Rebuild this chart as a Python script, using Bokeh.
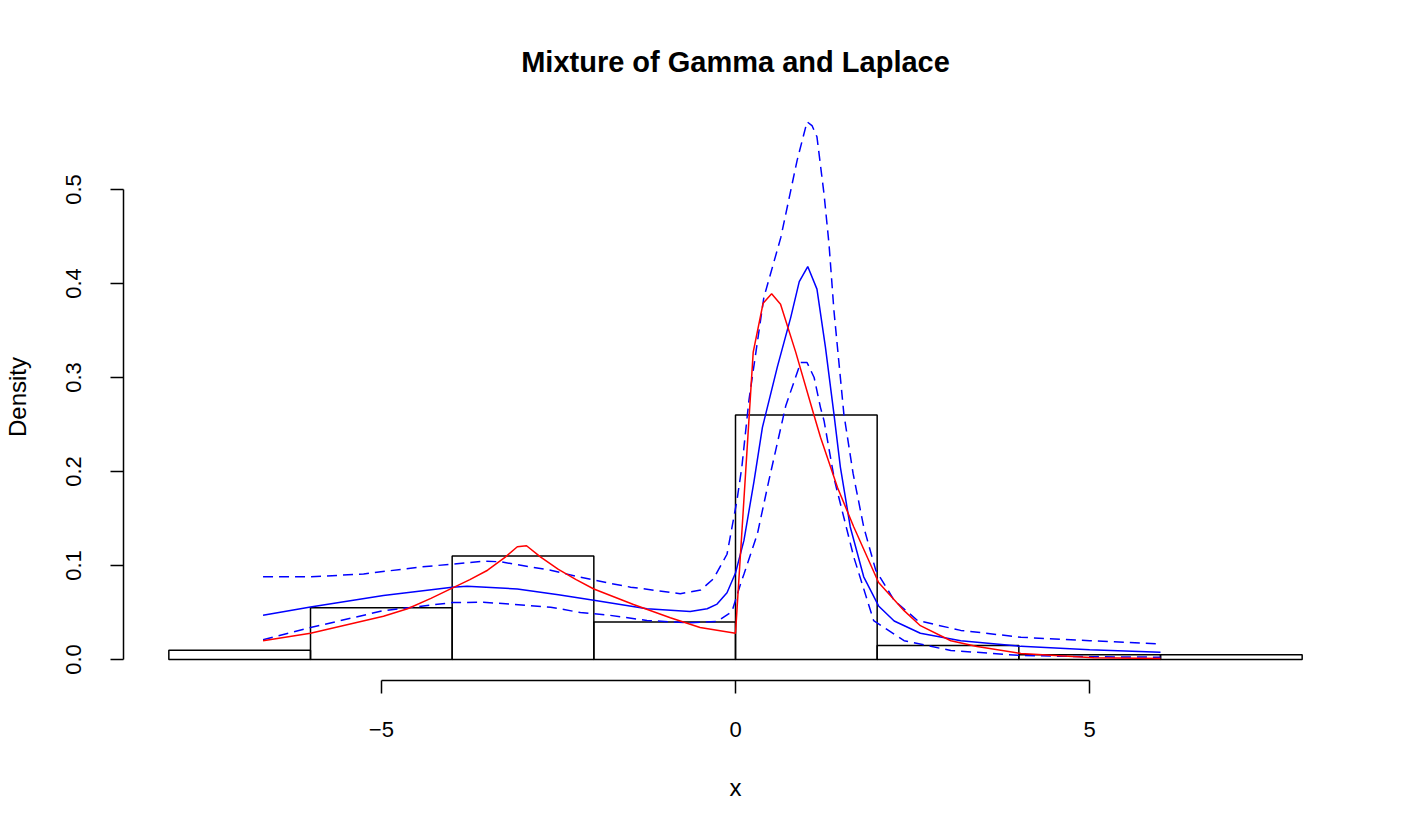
from bokeh.plotting import figure
from bokeh.models import FixedTicker, ColumnDataSource
from bokeh.embed import file_html
from bokeh.resources import INLINE

# ---- data ----
bin_left = [-8, -6, -4, -2, 0, 2, 4, 6]
bin_right = [-6, -4, -2, 0, 2, 4, 6, 8]
bin_density = [0.010, 0.055, 0.110, 0.040, 0.260, 0.015, 0.005, 0.005]

true_x = [-6.67, -6.0, -4.97, -4.63, -4.3, -4.0, -3.75, -3.5, -3.25, -3.08, -2.95, -2.75, -2.5,
          -2.25, -2.0, -1.44, -0.92, -0.5, 0.0, 0.25, 0.39, 0.51, 0.636, 0.85, 1.1, 1.2, 1.44,
          1.67, 2.02, 2.38, 2.61, 3.04, 3.41, 4.03, 5.06, 6.0]
true_y = [0.020, 0.028, 0.046, 0.054, 0.065, 0.076, 0.085, 0.095, 0.109, 0.120, 0.121, 0.109, 0.096,
          0.085, 0.075, 0.0585, 0.0445, 0.034, 0.028, 0.327, 0.379, 0.389, 0.378, 0.327, 0.262, 0.2365, 0.183,
          0.141, 0.082, 0.052, 0.036, 0.020, 0.0138, 0.0064, 0.002, 0.001]

est_x = [-6.67, -6.0, -4.97, -4.0, -3.79, -3.08, -2.5, -2.0, -1.25, -0.64, -0.4, -0.26,
         -0.12, 0.0, 0.12, 0.26, 0.38, 0.59, 0.78, 0.90, 1.02, 1.15, 1.27, 1.39, 1.48,
         1.62, 1.81, 2.02, 2.24, 2.61, 3.18, 4.03, 5.0, 6.0]
est_y = [0.047, 0.056, 0.068, 0.077, 0.078, 0.075, 0.069, 0.063, 0.054, 0.051, 0.054, 0.059,
         0.071, 0.092, 0.127, 0.189, 0.247, 0.311, 0.364, 0.402, 0.418, 0.394, 0.332, 0.261, 0.205,
         0.141, 0.088, 0.057, 0.041, 0.028, 0.020, 0.014, 0.0105, 0.0078]

upper_x = [-6.67, -6.0, -5.25, -4.5, -3.56, -3.32, -2.61, -2.19, -1.77, -1.48, -0.78, -0.49,
           -0.31, -0.12, 0.02, 0.09, 0.19, 0.40, 0.64, 0.87, 1.01, 1.08, 1.15, 1.25, 1.32,
           1.39, 1.53, 1.66, 1.81, 1.98, 2.24, 2.57, 3.18, 4.03, 5.0, 6.0]
upper_y = [0.088, 0.088, 0.091, 0.098, 0.1046, 0.104, 0.095, 0.0876, 0.081, 0.077, 0.070, 0.074,
           0.086, 0.112, 0.169, 0.205, 0.276, 0.385, 0.449, 0.531, 0.572, 0.568, 0.556, 0.495, 0.442,
           0.371, 0.261, 0.198, 0.141, 0.095, 0.063, 0.0415, 0.031, 0.0237, 0.020, 0.0167]

lower_x = [-6.67, -6.0, -4.97, -4.0, -3.56, -2.61, -2.19, -1.77, -1.25, -0.64, -0.26, -0.05,
           0.07, 0.12, 0.31, 0.47, 0.71, 0.92, 1.01, 1.11, 1.20, 1.25, 1.40, 1.67, 1.95,
           2.38, 3.04, 4.03, 5.0, 6.0]
lower_y = [0.021, 0.034, 0.052, 0.0606, 0.061, 0.0557, 0.050, 0.047, 0.0415, 0.039, 0.0405, 0.051,
           0.080, 0.091, 0.134, 0.19, 0.270, 0.316, 0.316, 0.300, 0.268, 0.254, 0.19, 0.109, 0.0415,
           0.020, 0.0096, 0.0043, 0.003, 0.0025]

x_ticks = [-5, 0, 5]
x_tick_labels = ["\u22125", "0", "5"]
y_ticks = [0.0, 0.1, 0.2, 0.3, 0.4, 0.5]
y_tick_labels = ["0.0", "0.1", "0.2", "0.3", "0.4", "0.5"]

FONT = "Liberation Sans"

p = figure(width=1411, height=834, output_backend="svg", toolbar_location=None,
           x_range=(-8.64, 8.64), y_range=(-0.0223, 0.5808),
           min_border_left=123, min_border_right=64, min_border_top=113, min_border_bottom=154,
           title="Mixture of Gamma and Laplace")
p.outline_line_color = None
p.xgrid.visible = False
p.ygrid.visible = False
p.background_fill_color = "white"
p.border_fill_color = "white"

p.title.align = "center"
p.title.text_font = FONT
p.title.text_font_size = "29px"
p.title.text_font_style = "bold"
p.title.text_color = "black"
p.title.standoff = 72

src = ColumnDataSource(dict(left=bin_left, right=bin_right, top=bin_density,
                            bottom=[0] * len(bin_left)))
p.quad(left="left", right="right", top="top", bottom="bottom", source=src,
       fill_color=None, line_color="black", line_width=1.5)

p.line(upper_x, upper_y, line_color="blue", line_width=1.5, line_dash="10 6")
p.line(lower_x, lower_y, line_color="blue", line_width=1.5, line_dash="10 6")
p.line(est_x, est_y, line_color="blue", line_width=1.5)
p.line(true_x, true_y, line_color="red", line_width=1.5)

for ax, ticks, labels, bnds in ((p.xaxis[0], x_ticks, x_tick_labels, (-5, 5)),
                                (p.yaxis[0], y_ticks, y_tick_labels, (0, 0.5))):
    ax.ticker = FixedTicker(ticks=ticks)
    ax.major_label_overrides = {t: l for t, l in zip(ticks, labels)}
    ax.bounds = bnds
    ax.minor_tick_line_color = None
    ax.major_tick_in = 0
    ax.major_tick_out = 13
    ax.axis_line_width = 1.5
    ax.major_tick_line_width = 1.5
    ax.axis_line_color = "black"
    ax.major_tick_line_color = "black"
    ax.major_label_text_font = FONT
    ax.major_label_text_font_size = "22px"
    ax.major_label_text_color = "black"
    ax.axis_label_text_font = FONT
    ax.axis_label_text_font_size = "24px"
    ax.axis_label_text_font_style = "normal"
    ax.axis_label_text_color = "black"

p.xaxis.axis_label = "x"
p.yaxis.axis_label = "Density"
p.xaxis.major_label_standoff = 28
p.xaxis.axis_label_standoff = 34
p.yaxis.major_label_orientation = "vertical"
p.yaxis.major_label_standoff = 29
p.yaxis.axis_label_standoff = 33

open("out.html", "w").write(file_html(p, INLINE))
